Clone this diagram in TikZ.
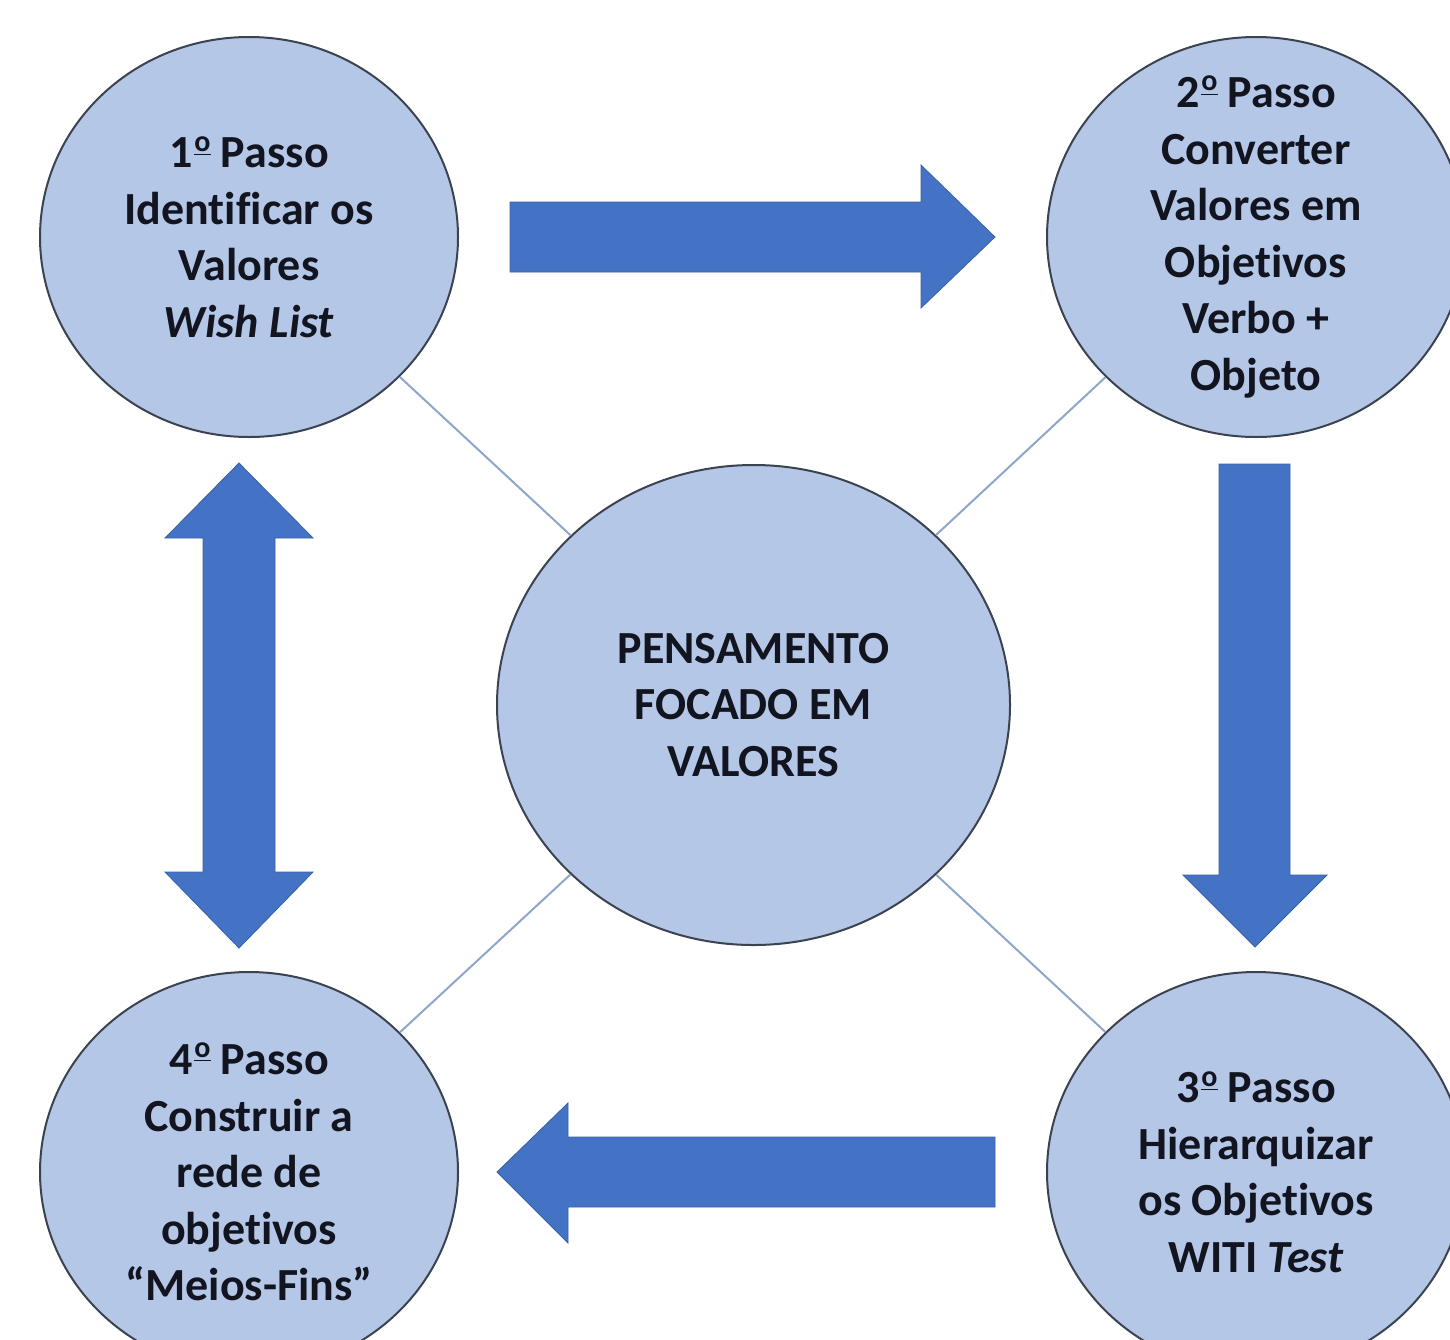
\documentclass[tikz,border=0pt]{standalone}
\usepackage{fontspec}
\setmainfont{Carlito}[Ligatures=NoCommon]
\usetikzlibrary{shapes.geometric}
\definecolor{cfill}{HTML}{B4C7E7}
\definecolor{cedge}{HTML}{3C4350}
\definecolor{arr}{HTML}{4472C4}
\definecolor{lnk}{HTML}{8FA6CC}
\definecolor{textc}{HTML}{121420}
\newcommand\ordmark{\hspace{0.04em}\raisebox{0.75ex}{\fontsize{15}{15}\selectfont\underline{o}}}
\begin{document}
\begin{tikzpicture}[x=0.5pt,y=-0.5pt,
  stepcirc/.style={ellipse, draw=cedge, line width=1pt, fill=cfill, inner sep=0pt,
    minimum width=209pt, minimum height=200pt},
  centercirc/.style={stepcirc, minimum width=256.5pt, minimum height=240pt},
  txt/.style={align=center, inner sep=0pt, text=textc,
    font=\bfseries\fontsize{23}{28.25}\selectfont},
  linkline/.style={draw=lnk, line width=1pt},
  bigarrow/.style={fill=arr, draw=arr!85!black, line width=0.4pt, line join=miter}]
\useasboundingbox (0,0) rectangle (1450,1339);
\clip (0,0) rectangle (1450,1339);
\fill[white] (0,0) rectangle (1450,1339);

% circles
\node[stepcirc] (s1) at (249,237) {};
\node[stepcirc] (s2) at (1256,237) {};
\node[stepcirc] (s3) at (1256,1172) {};
\node[stepcirc] (s4) at (249,1172) {};
\node[centercirc] (c0) at (753.5,705) {};

% thin connectors
\draw[linkline] (s1) -- (c0);
\draw[linkline] (s2) -- (c0);
\draw[linkline] (s3) -- (c0);
\draw[linkline] (s4) -- (c0);

% texts
\node[txt] (t1) at (s1.center) {1\ordmark{} Passo\\Identificar os\\Valores\\\textit{Wish List}};
\node[txt] (t2) at (s2.center) {2\ordmark{} Passo\\Converter\\Valores em\\Objetivos\\Verbo +\\Objeto};
\node[txt] (t3) at (s3.center) {3\ordmark{} Passo\\Hierarquizar\\os Objetivos\\WITI \textit{Test}};
\node[txt] (t4) at (s4.center) {4\ordmark{} Passo\\Construir a\\rede de\\objetivos\\“Meios-Fins”};
\node[txt] (t0) at (c0.center) {PENSAMENTO\\FOCADO EM\\VALORES};

% big arrows
\path[bigarrow] (510,202) -- (921,202) -- (921,165) -- (995,237) -- (921,308)
  -- (921,272) -- (510,272) -- cycle;
\path[bigarrow] (1219,464) -- (1290,464) -- (1290,875) -- (1327,875) -- (1255,947)
  -- (1183,875) -- (1219,875) -- cycle;
\path[bigarrow] (995,1137) -- (568,1137) -- (568,1103) -- (497,1172) -- (568,1243)
  -- (568,1207) -- (995,1207) -- cycle;
\path[bigarrow] (239,463) -- (313,538) -- (275,538) -- (275,872) -- (313,872)
  -- (239,948) -- (165,872) -- (203,872) -- (203,538) -- (165,538) -- cycle;
\end{tikzpicture}
\end{document}
